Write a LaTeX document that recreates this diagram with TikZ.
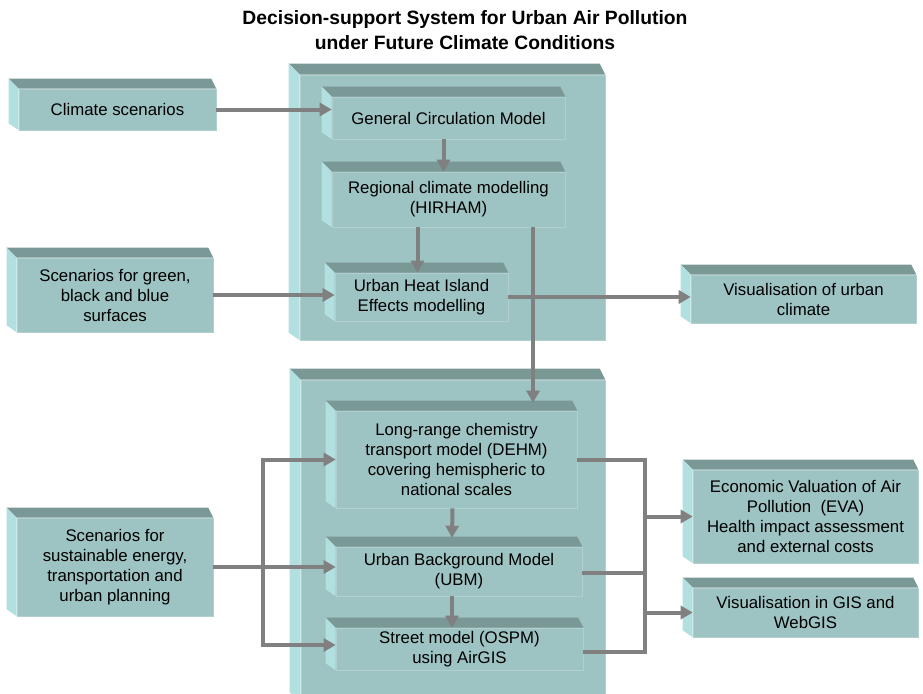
\documentclass[tikz,border=0pt]{standalone}
\usepackage{fontspec}
\setmainfont{Liberation Sans}
\usetikzlibrary{arrows.meta}

\definecolor{boxfront}{HTML}{9DC3C2}
\definecolor{boxtop}{HTML}{7A9896}
\definecolor{boxside}{HTML}{B2DFDF}
\definecolor{arrowgray}{HTML}{808080}

% top and left faces of a bevelled box
\newcommand{\bevel}[2][10]{%
    \fill[boxtop] (#2.north west) -- ++(-#1,-#1) -- ([shift={(-#1/2,-#1)}]#2.north east) -- (#2.north east) -- cycle;
    \fill[boxside] (#2.north west) -- ++(-#1,-#1) -- ([shift={(-#1,-#1*0.7)}]#2.south west) -- (#2.south west) -- cycle;
}

\begin{document}
\begin{tikzpicture}[
    x=1pt,y=-1pt,
    block/.style={rectangle,fill=boxfront,draw=boxfront!80!white,line width=0.6pt,inner sep=0pt,align=center,font=\fontsize{16.8}{20}\selectfont},
    dims/.style 2 args={minimum width=#1pt,minimum height=#2pt},
    flow/.style={->,draw=arrowgray,line width=4pt},
    link/.style={draw=arrowgray,line width=4pt},
    heading/.style={align=center,font=\bfseries\fontsize{19.3}{25}\selectfont},
    >={Triangle[length=12pt,width=13pt]},
]
\useasboundingbox (0,0) rectangle (923,693);

\node[heading] (title) at (465,30) {Decision-support System for Urban Air Pollution\\ under Future Climate Conditions};

%%%
% Scenario inputs
\node[block,dims={197}{41}] (clim) at (117.5,109.5) {Climate scenarios};
\bevel{clim}
\node[block,dims={196}{74}] (green) at (115,295) {Scenarios for green,\\ black and blue\\ surfaces};
\bevel{green}
\node[block,dims={196}{98}] (sust) at (115,567) {Scenarios for\\ sustainable energy,\\ transportation and\\ urban planning};
\bevel{sust}

%%%
% Climate model chain
\node[block,dims={305}{265}] (climsys) at (452.5,207.5) {};
\bevel[11]{climsys}
\node[block,dims={233}{42}] (gcm) at (448.5,118) {General Circulation Model};
\bevel{gcm}
\node[block,dims={233}{55}] (rcm) at (448.5,199.5) {Regional climate modelling\\ (HIRHAM)};
\bevel{rcm}
\node[block,dims={173}{48}] (uhi) at (421.5,297) {Urban Heat Island\\ Effects modelling};
\bevel{uhi}

%%%
% Air pollution model chain
\node[block,dims={304}{320}] (airsys) at (453,540) {};
\bevel[11]{airsys}
\node[block,dims={241}{97}] (dehm) at (456.5,459.5) {Long-range chemistry\\ transport model (DEHM)\\ covering hemispheric to\\ national scales};
\bevel{dehm}
\node[block,dims={246}{49}] (ubm) at (459,571.5) {Urban Background Model\\ (UBM)};
\bevel{ubm}
\node[block,dims={247}{42}] (ospm) at (459.5,649) {Street model (OSPM)\\ using AirGIS};
\bevel{ospm}

%%%
% Outputs
\node[block,dims={225}{48}] (visclim) at (803.5,299) {Visualisation of urban\\ climate};
\bevel{visclim}
\node[block,dims={225}{93}] (eva) at (805.5,516.5) {Economic Valuation of Air\\ Pollution\ \ (EVA)\\ Health impact assessment\\ and external costs};
\bevel{eva}
\node[block,dims={225}{49}] (visgis) at (805.5,612.5) {Visualisation in GIS and\\ WebGIS};
\bevel{visgis}

%%%
% Connectors
\coordinate (splitL) at ([xshift=50pt]sust.east);
\coordinate (splitR) at ([xshift=68pt]dehm.east);

\draw[flow] (clim.east) -- (clim.east -| gcm.west);
\draw[flow] ([xshift=-5pt]gcm.south) -- ([xshift=-5pt]rcm.north);
\draw[flow] ([xshift=-4pt]uhi.north |- rcm.south) -- ([xshift=-4pt]uhi.north);
\draw[flow] (green.east) -- (green.east -| uhi.west);
\draw[flow] ([xshift=84.5pt]rcm.south) -- ([xshift=84.5pt,yshift=8pt]rcm.south |- dehm.north);
\draw[flow] (uhi.east) -- (uhi.east -| visclim.west);

\draw[flow] (sust.east) -- (sust.east -| ubm.west);
\draw[flow] (splitL) |- (dehm.west);
\draw[flow] (splitL) |- ([yshift=4pt]ospm.west);
\draw[flow] ([xshift=-4pt]dehm.south) -- ([xshift=-7pt,yshift=9pt]ubm.north);
\draw[flow] ([xshift=-7pt]ubm.south) -- ([xshift=-7.5pt]ospm.north);

\draw[link] (dehm.east) -- (splitR) |- ([yshift=-3pt]ospm.east);
\draw[link] ([yshift=-1.5pt]ubm.east) -- ([yshift=-1.5pt]ubm.east -| splitR);
\draw[flow] (splitR |- eva.west) -- (eva.west);
\draw[flow] (splitR |- visgis.west) -- (visgis.west);
\end{tikzpicture}
\end{document}
